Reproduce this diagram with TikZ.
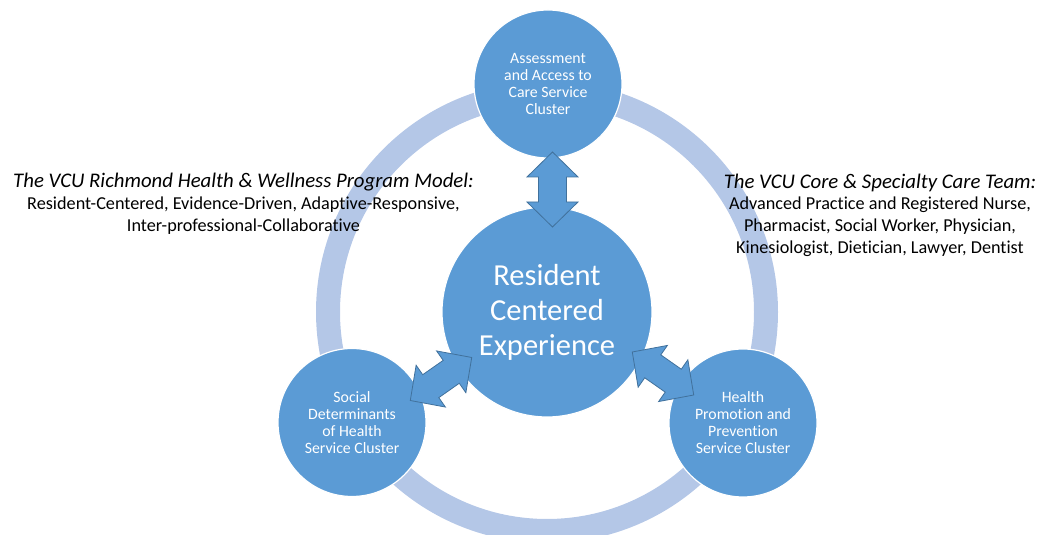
\documentclass[tikz,border=0pt]{standalone}
\usepackage{fontspec}
\setmainfont[Ligatures=NoCommon]{Carlito}
\definecolor{circblue}{HTML}{5B9BD5}
\definecolor{ringblue}{HTML}{B4C7E7}
\definecolor{arrowedge}{HTML}{41719C}
\begin{document}
\begin{tikzpicture}[x=1pt,y=1pt,
  cluster/.style={circle, fill=circblue, draw=white, line width=1.2pt, minimum size=148pt, inner sep=0pt, text=white, align=center, font=\fontsize{15.8}{17}\selectfont},
  hub/.style={circle, fill=circblue, draw=white, line width=1.2pt, minimum size=210pt, inner sep=0pt, text=white, align=center, font=\fontsize{30.5}{35}\selectfont},
  blockarrow/.style={fill=circblue, draw=arrowedge, line width=0.8pt, line join=miter},
  sidetext/.style={font=\fontsize{18.2}{22}\selectfont, anchor=base, inner sep=0pt},
  sidetitle/.style={font=\fontsize{20.8}{22}\selectfont\itshape, anchor=base, inner sep=0pt}]
\useasboundingbox (0,0) rectangle (1037,535);
\clip (0,0) rectangle (1037,535);
% ring
\draw[ringblue, line width=24pt] (547,223) circle[radius=219];
% cluster circles
\node[cluster] (assess) at (548,451) {Assessment\\and Access to\\Care Service\\Cluster};
\node[cluster] (social) at (352,112.5) {Social\\Determinants\\of Health\\Service Cluster};
\node[cluster] (health) at (743,112) {Health\\Promotion and\\Prevention\\Service Cluster};
\node[hub] (rce) at (547,223) {Resident\\Centered\\Experience};
% block double arrows
\draw[blockarrow, shift={(552.5,345.5)}, rotate=90]
  (-37.5,0) -- (-12.5,25.5) -- (-12.5,14) -- (12.5,14) -- (12.5,25.5) -- (37.5,0)
  -- (12.5,-25.5) -- (12.5,-14) -- (-12.5,-14) -- (-12.5,-25.5) -- cycle;
\draw[blockarrow, shift={(441,156)}, rotate=35]
  (-37.5,0) -- (-12.5,25.5) -- (-12.5,14) -- (12.5,14) -- (12.5,25.5) -- (37.5,0)
  -- (12.5,-25.5) -- (12.5,-14) -- (-12.5,-14) -- (-12.5,-25.5) -- cycle;
\draw[blockarrow, shift={(663,161.5)}, rotate=-35]
  (-37.5,0) -- (-12.5,25.5) -- (-12.5,14) -- (12.5,14) -- (12.5,25.5) -- (37.5,0)
  -- (12.5,-25.5) -- (12.5,-14) -- (-12.5,-14) -- (-12.5,-25.5) -- cycle;
% left text
\node[sidetitle] (l1) at (243.5,347) {The VCU Richmond Health \& Wellness Program Model:};
\node[sidetext] (l2) at (243.5,325) {Resident-Centered, Evidence-Driven, Adaptive-Responsive,};
\node[sidetext] (l3) at (243.5,303) {Inter-professional-Collaborative};
% right text
\node[sidetitle] (r1) at (880,346) {The VCU Core \& Specialty Care Team:};
\node[sidetext] (r2) at (880,325) {Advanced Practice and Registered Nurse,};
\node[sidetext] (r3) at (880,303) {Pharmacist, Social Worker, Physician,};
\node[sidetext] (r4) at (880,281) {Kinesiologist, Dietician, Lawyer, Dentist};
\end{tikzpicture}
\end{document}
